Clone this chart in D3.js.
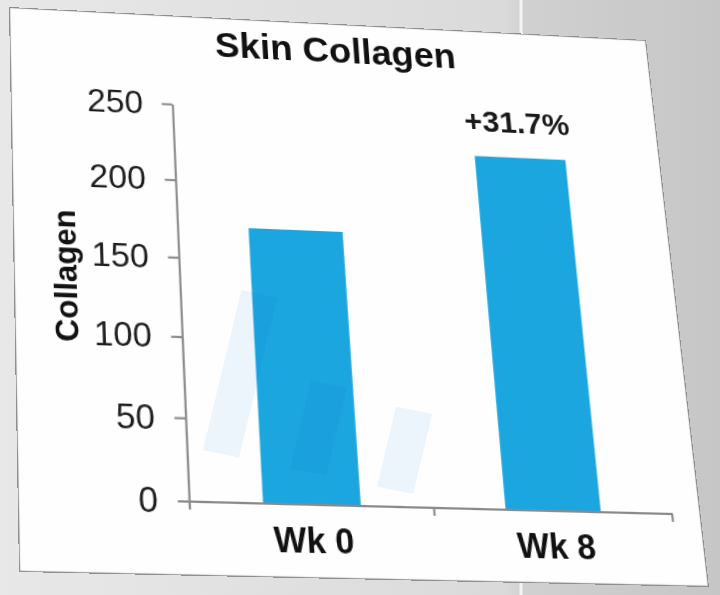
<!DOCTYPE html>
<html>
<head>
<meta charset="utf-8">
<script src="https://cdn.jsdelivr.net/npm/d3@7"></script>
<style>
  html, body { margin: 0; padding: 0; }
  body { width: 720px; height: 595px; overflow: hidden; position: relative; }
  #bg, #panel, #ghost { position: absolute; left: 0; top: 0; }
  #panel { transform-origin: 0 0; }
  #ghost { mix-blend-mode: multiply; pointer-events: none; }
</style>
</head>
<body>
<script>
// chart values
var categories = ["Wk 0", "Wk 8"];
var collagen = [170.5, 224.5];
var yTicks = [0, 50, 100, 150, 200, 250];
var changeLabels = ["", "+31.7%"];

// faint left-over of the previous slide (photo cross-fade)
var ghostCategories = ["Wk 0", "Wk 4", "Wk 8"];
var ghostValues = [2.0, 1.1, 1.0];

var font = "Arial, 'Liberation Sans', Helvetica, sans-serif";

// photographed slide corners: TL, TR, BR, BL
var corners = [[9, 7], [646, 40], [709, 587], [19, 572]];
var W = 620, H = 520;

// rectangle (0,0)-(w,h) -> quad, as css matrix3d
function quadMatrix(w, h, q) {
  var x0 = q[0][0], y0 = q[0][1], x1 = q[1][0], y1 = q[1][1],
      x2 = q[2][0], y2 = q[2][1], x3 = q[3][0], y3 = q[3][1];
  var dx1 = x1 - x2, dx2 = x3 - x2, dx3 = x0 - x1 + x2 - x3;
  var dy1 = y1 - y2, dy2 = y3 - y2, dy3 = y0 - y1 + y2 - y3;
  var den = dx1 * dy2 - dx2 * dy1;
  var g = (dx3 * dy2 - dx2 * dy3) / den,
      k = (dx1 * dy3 - dx3 * dy1) / den;
  var a = x1 - x0 + g * x1, b = x3 - x0 + k * x3,
      d = y1 - y0 + g * y1, e = y3 - y0 + k * y3;
  return [a / w, d / w, 0, g / w,
          b / h, e / h, 0, k / h,
          0, 0, 1, 0,
          x0, y0, 0, 1];
}

// background of the room
var bg = d3.select("body").append("svg")
    .attr("id", "bg")
    .attr("width", 720)
    .attr("height", 595);

var grad = bg.append("defs").append("linearGradient")
    .attr("id", "wall")
    .attr("x1", "0").attr("x2", "1").attr("y1", "0").attr("y2", "0");
grad.append("stop").attr("offset", "0").attr("stop-color", "#e8e8e8");
grad.append("stop").attr("offset", "0.70").attr("stop-color", "#dadada");
grad.append("stop").attr("offset", "0.73").attr("stop-color", "#d0d0d0");
grad.append("stop").attr("offset", "1").attr("stop-color", "#c6c6c6");

bg.append("rect")
    .attr("width", 720)
    .attr("height", 595)
    .attr("fill", "url(#wall)");

bg.append("line")
    .attr("x1", 521).attr("x2", 521)
    .attr("y1", 0).attr("y2", 595)
    .attr("stroke", "#f3f3f3")
    .attr("stroke-width", 3);

// the slide itself, drawn flat then put into perspective
var svg = d3.select("body").append("svg")
    .attr("id", "panel")
    .attr("width", W)
    .attr("height", H)
    .style("transform", "matrix3d(" + quadMatrix(W, H, corners).join(",") + ")");

svg.append("rect")
    .attr("x", 0.5).attr("y", 0.5)
    .attr("width", W - 1).attr("height", H - 1)
    .attr("fill", "#fefefe")
    .attr("stroke", "#8f8f8f")
    .attr("stroke-width", 1.2);

var x = d3.scaleBand()
    .domain(categories)
    .range([151.3, 592.7])
    .padding(0);

var xEdges = d3.scaleLinear()
    .domain([0, categories.length])
    .range(x.range());

var y = d3.scaleLinear()
    .domain([0, 250])
    .range([455.5, 88.2]);

var barW = x.bandwidth() * 0.4;

svg.selectAll(".bar")
    .data(collagen)
    .enter().append("rect")
    .attr("class", "bar")
    .attr("x", function(d, i) { return x(categories[i]) + (x.bandwidth() - barW) / 2; })
    .attr("y", function(d) { return y(d); })
    .attr("width", barW)
    .attr("height", function(d) { return y(0) - y(d); })
    .attr("fill", "#1ba6e0");

svg.selectAll(".change")
    .data(changeLabels)
    .enter().append("text")
    .attr("class", "change")
    .attr("x", function(d, i) { return x(categories[i]) + x.bandwidth() / 2; })
    .attr("y", function(d, i) { return y(collagen[i]) - 24.6; })
    .attr("text-anchor", "middle")
    .attr("font-family", font)
    .attr("font-weight", "bold")
    .attr("font-size", 30)
    .attr("fill", "#1a1a1a")
    .text(function(d) { return d; });

// y axis
var yAxis = svg.append("g")
    .attr("transform", "translate(" + x.range()[0] + ",0)")
    .call(d3.axisLeft(y).tickValues(yTicks).tickSize(10).tickPadding(17.5).tickSizeOuter(0));
yAxis.selectAll("path, line")
    .attr("stroke", "#8a8a8a")
    .attr("stroke-width", 2);
yAxis.selectAll("text")
    .attr("font-family", font)
    .attr("font-size", 31.5)
    .attr("fill", "#1e1e1e");

// x axis: ticks between categories
var xAxis = svg.append("g")
    .attr("transform", "translate(0," + y(0) + ")")
    .call(d3.axisBottom(xEdges).tickValues(d3.range(categories.length + 1))
      .tickFormat("").tickSize(7.5).tickSizeOuter(0));
xAxis.selectAll("path, line")
    .attr("stroke", "#8a8a8a")
    .attr("stroke-width", 2);

var xLabels = svg.append("g")
    .attr("transform", "translate(0," + y(0) + ")")
    .call(d3.axisBottom(x).tickSize(0).tickPadding(20.6));
xLabels.select(".domain").remove();
xLabels.selectAll("text")
    .attr("font-family", font)
    .attr("font-weight", "bold")
    .attr("font-size", 31)
    .attr("fill", "#111");

// titles
svg.append("text")
    .attr("x", 311.2)
    .attr("y", 39.5)
    .attr("text-anchor", "middle")
    .attr("font-family", font)
    .attr("font-weight", "bold")
    .attr("font-size", 35.3)
    .attr("fill", "#111")
    .text("Skin Collagen");

svg.append("text")
    .attr("transform", "translate(57,255.7) rotate(-90)")
    .attr("text-anchor", "middle")
    .attr("font-family", font)
    .attr("font-weight", "bold")
    .attr("font-size", 29)
    .attr("fill", "#111")
    .text("Collagen");

// ghost of the previous slide
var ghost = d3.select("body").append("svg")
    .attr("id", "ghost")
    .attr("width", 720)
    .attr("height", 595);

var gx = d3.scaleBand()
    .domain(ghostCategories)
    .range([0, 210])
    .paddingInner(0.586)
    .paddingOuter(0);

var gy = d3.scaleLinear()
    .domain([0, 2.5])
    .range([0, -200]);

ghost.append("g")
    .attr("transform", "matrix(1,0.21,-0.24,1,203,450)")
    .selectAll("rect")
    .data(ghostValues)
    .enter().append("rect")
    .attr("x", function(d, i) { return gx(ghostCategories[i]); })
    .attr("y", function(d) { return gy(d); })
    .attr("width", gx.bandwidth())
    .attr("height", function(d) { return -gy(d); })
    .attr("fill", "#ecf6fc");
</script>
</body>
</html>
